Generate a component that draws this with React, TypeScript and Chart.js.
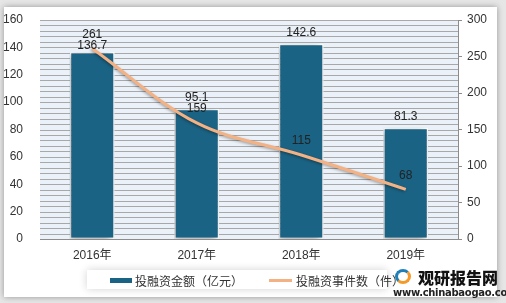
import React, { useEffect, useRef } from "react";
import { Chart, registerables } from "chart.js";

Chart.register(...registerables);

const categories = ["2016年", "2017年", "2018年", "2019年"];
const amountValues = [136.7, 95.1, 142.6, 81.3];
const eventValues = [261, 159, 115, 68];
const amountLabel = "投融资金额（亿元）";
const eventLabel = "投融资事件数（件）";
const minorGridStep = 4;

const FONT = '"Liberation Sans", "Noto Sans CJK SC", sans-serif';
const BAR_COLOR = "#1B6384";
const LINE_COLOR = "#F4B183";

const plotBg = {
  id: "plotBg",
  beforeDatasetsDraw(chart: any) {
    const { ctx, chartArea } = chart;
    const ys = chart.scales.y;
    ctx.save();
    ctx.fillStyle = "#EAF1F8";
    ctx.fillRect(chartArea.left, chartArea.top, chartArea.right - chartArea.left, chartArea.bottom - chartArea.top);
    ctx.strokeStyle = "#A8A8A8";
    ctx.lineWidth = 1;
    for (let v = ys.min + minorGridStep; v <= ys.max + 1e-6; v += minorGridStep) {
      const y = Math.round(ys.getPixelForValue(v)) + 0.5;
      ctx.beginPath();
      ctx.moveTo(chartArea.left, y);
      ctx.lineTo(chartArea.right, y);
      ctx.stroke();
    }
    ctx.restore();
  },
};

const shadows = {
  id: "shadows",
  beforeDatasetDraw(chart: any, args: any) {
    const ctx = chart.ctx;
    ctx.save();
    const type = chart.data.datasets[args.index].type;
    if (type === "bar") {
      ctx.shadowColor = "rgba(0,0,0,0.35)";
      ctx.shadowBlur = 7;
      ctx.shadowOffsetX = -2;
      ctx.shadowOffsetY = 2;
    } else {
      ctx.shadowColor = "rgba(0,0,0,0.35)";
      ctx.shadowBlur = 3;
      ctx.shadowOffsetX = -1;
      ctx.shadowOffsetY = 1;
    }
  },
  afterDatasetDraw(chart: any) {
    chart.ctx.restore();
  },
};

const dataLabels = {
  id: "dataLabels",
  afterDatasetsDraw(chart: any) {
    const ctx = chart.ctx;
    ctx.save();
    ctx.font = `12px ${FONT}`;
    ctx.fillStyle = "#222";
    ctx.textAlign = "center";
    ctx.textBaseline = "bottom";
    const barMeta = chart.getDatasetMeta(1);
    const lineMeta = chart.getDatasetMeta(0);
    const lineBottoms: number[] = [];
    lineMeta.data.forEach((pt: any, i: number) => {
      const y = pt.y - 8;
      lineBottoms[i] = y;
      ctx.fillText(String(eventValues[i]), pt.x, y);
    });
    barMeta.data.forEach((bar: any, i: number) => {
      let y = bar.y - 5;
      const ly = lineBottoms[i];
      if (y >= ly && y - ly < 11) {
        y = ly + 11;
      }
      ctx.fillText(String(amountValues[i]), bar.x, y);
    });
    ctx.restore();
  },
};

export default function App() {
  const ref = useRef<HTMLCanvasElement>(null);
  useEffect(() => {
    document.body.style.margin = "0";
    const chart = new Chart(ref.current as HTMLCanvasElement, {
      data: {
        labels: categories,
        datasets: [
          {
            type: "line",
            label: eventLabel,
            data: eventValues,
            yAxisID: "y1",
            borderColor: LINE_COLOR,
            borderWidth: 3,
            pointRadius: 0,
            tension: 0.35,
            order: 0,
          } as any,
          {
            type: "bar",
            label: amountLabel,
            data: amountValues,
            yAxisID: "y",
            backgroundColor: BAR_COLOR,
            borderColor: "#ffffff",
            borderWidth: 1.5,
            borderSkipped: false,
            categoryPercentage: 1,
            barPercentage: 0.43,
            order: 1,
          } as any,
        ],
      },
      options: {
        responsive: false,
        animation: false,
        layout: { padding: { top: 20, left: 0, right: 0, bottom: 0 } },
        plugins: { legend: { display: false }, tooltip: { enabled: false } },
        scales: {
          x: {
            grid: { display: false, drawTicks: false },
            border: { display: true, color: "#8C8C8C", width: 1 },
            ticks: { font: { size: 12, family: FONT }, color: "#333", padding: 9 },
            afterFit(s: any) {
              s.height = 64;
            },
          },
          y: {
            position: "left",
            min: 0,
            max: 160,
            grid: { display: false },
            border: { display: false },
            ticks: {
              stepSize: 20,
              padding: 9,
              color: "#333",
              font: { size: 12, family: FONT },
            },
            afterFit(s: any) {
              s.width = 40;
            },
          },
          y1: {
            position: "right",
            min: 0,
            max: 300,
            grid: { drawOnChartArea: false, drawTicks: true, tickLength: 4, color: "#8C8C8C" },
            border: { display: true, color: "#8C8C8C" },
            ticks: {
              stepSize: 50,
              padding: 5,
              color: "#333",
              font: { size: 12, family: FONT },
            },
            afterFit(s: any) {
              s.width = 48;
            },
          },
        },
      } as any,
      plugins: [plotBg, shadows, dataLabels],
    });
    return () => chart.destroy();
  }, []);

  return (
    <div style={{ position: "relative", width: 506, height: 303, background: "#E6E6E6", overflow: "hidden", fontFamily: FONT }}>
      <div
        style={{
          position: "absolute",
          left: 4,
          top: 7,
          width: 493,
          height: 290,
          background: "#fff",
          boxShadow: "0 0 6px rgba(0,0,0,0.35)",
        }}
      />
      <div
        style={{
          position: "absolute",
          left: 87,
          top: 270,
          width: 300,
          height: 19,
          background: "#fff",
          boxShadow: "0 0 8px rgba(0,0,0,0.18)",
        }}
      />
      <canvas ref={ref} width={506} height={303} style={{ position: "absolute", left: 0, top: 0 }} />
      <div style={{ position: "absolute", left: 110, top: 272, height: 16, display: "flex", alignItems: "center", fontSize: 12, color: "#333", whiteSpace: "nowrap" }}>
        <span style={{ display: "inline-block", width: 22, height: 5, background: BAR_COLOR, marginRight: 3 }} />
        <span>{amountLabel}</span>
        <span style={{ display: "inline-block", width: 23, height: 3, background: LINE_COLOR, marginLeft: 26, marginRight: 4 }} />
        <span>{eventLabel}</span>
      </div>
      <div style={{ position: "absolute", left: 393, top: 268, width: 20, height: 17 }}>
        <div style={{ position: "absolute", left: 2, top: 1, width: 16, height: 15, borderRadius: "50%", border: "3px solid #1E7FB8", borderRightColor: "#F39A2B", borderBottomColor: "#F39A2B", boxSizing: "border-box" }} />
      </div>
      <div style={{ position: "absolute", left: 418, top: 268, fontSize: 16, fontWeight: 900, color: "#111", fontFamily: '"Noto Sans CJK SC", sans-serif', lineHeight: "18px", whiteSpace: "nowrap" }}>
        观研报告网
      </div>
      <div style={{ position: "absolute", left: 393, top: 287, fontSize: 10, fontWeight: 700, color: "#222", fontFamily: '"DejaVu Sans", sans-serif', lineHeight: "11px", letterSpacing: -0.3, whiteSpace: "nowrap" }}>
        www.chinabaogao.com
      </div>
    </div>
  );
}
